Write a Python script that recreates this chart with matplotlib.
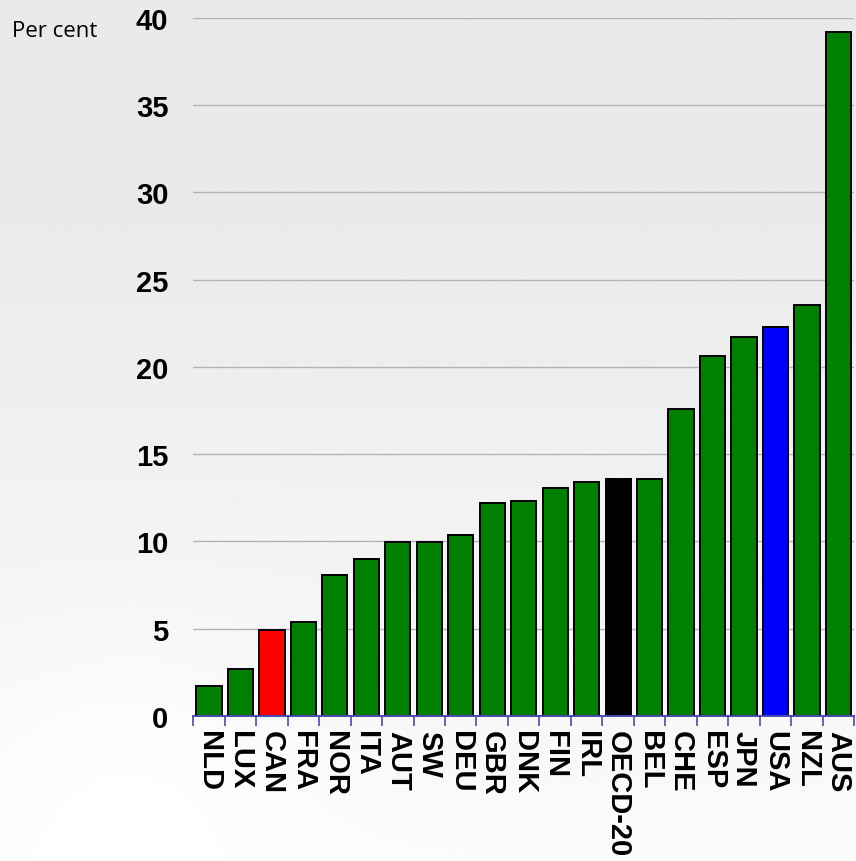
import numpy as np
import matplotlib
matplotlib.use("Agg")
import matplotlib.pyplot as plt
from matplotlib.ticker import FixedLocator

# data
countries = ["NLD", "LUX", "CAN", "FRA", "NOR", "ITA", "AUT", "SW", "DEU", "GBR", "DNK",
             "FIN", "IRL", "OECD-20", "BEL", "CHE", "ESP", "JPN", "USA", "NZL", "AUS"]
values = [1.7, 2.7, 4.9, 5.35, 8.05, 9.0, 9.95, 9.95, 10.35, 12.2, 12.3,
          13.05, 13.4, 13.6, 13.6, 17.6, 20.6, 21.7, 22.3, 23.55, 39.2]
highlight = {"CAN": "#ff0000", "OECD-20": "#000000", "USA": "#0000ff"}
yticks = [0, 5, 10, 15, 20, 25, 30, 35, 40]

fig = plt.figure(figsize=(8.56, 8.62), dpi=100)

# soft grey backdrop (the original uses a textured slide background)
bg = fig.add_axes([0, 0, 1, 1], zorder=-10)
bg.set_xlim(0, 1); bg.set_ylim(0, 1)
yy, xx = np.mgrid[1:0:300j, 0:1:300j]
shade = 0.985 - 0.07 * np.clip(yy * 1.3, 0, 1) + 0.02 * np.exp(-((xx - 0.15) ** 2 + (yy - 0.1) ** 2) / 0.04)
bg.imshow(np.clip(shade, 0, 1), cmap="gray", vmin=0, vmax=1, aspect="auto",
          extent=[0, 1, 0, 1], origin="upper", interpolation="bilinear")
bg.axis("off")

ax = fig.add_axes([0.2258, 0.1685, 0.772, 0.8095])
ax.patch.set_alpha(0)
x = np.arange(len(countries))
colors = [highlight.get(c, "#008000") for c in countries]
ax.bar(x, values, width=0.8, color=colors, edgecolor="black", linewidth=1.4, zorder=3)

ax.set_ylim(0, 40)
ax.set_xlim(-0.5, len(countries) - 0.5)
ax.set_yticks(yticks)
ax.set_yticklabels([str(t) for t in yticks], fontsize=21, fontweight="bold",
                   family="Liberation Sans")
ax.tick_params(axis="y", length=0, pad=18)
ax.grid(axis="y", color="#b4b4b4", linewidth=1.0, zorder=0)

ax.set_xticks(x)
ax.set_xticklabels(countries, rotation=270, fontsize=21, fontweight="bold",
                   family="Liberation Sans", va="top", ha="center")
ax.tick_params(axis="x", which="major", length=0, pad=10)
ax.xaxis.set_minor_locator(FixedLocator(np.arange(-0.5, len(countries), 1.0)))
ax.tick_params(axis="x", which="minor", length=7, width=1.2, color="#4a4ab0", direction="out")

for s in ("top", "right", "left"):
    ax.spines[s].set_visible(False)
ax.spines["bottom"].set_color("#4a4ab0")
ax.spines["bottom"].set_linewidth(1.4)
ax.spines["bottom"].set_zorder(4)

fig.text(0.014, 0.963, "Per cent", fontsize=16, family="Open Sans", ha="left", va="center")

fig.savefig("out.png", dpi=100)
